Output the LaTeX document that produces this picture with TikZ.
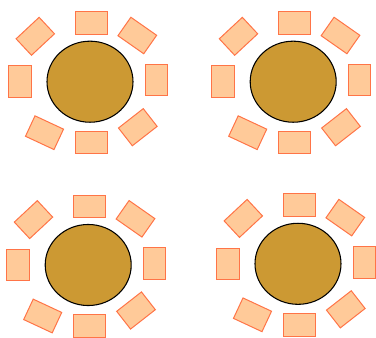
\documentclass[tikz,border=0pt]{standalone}
\usepackage{tikz}
\usetikzlibrary{shapes.geometric}
\definecolor{tableC}{HTML}{CC9933}
\definecolor{chairC}{HTML}{FFCA99}
\definecolor{chairE}{HTML}{FF7447}
\tikzset{
  tablebox/.style={ellipse, draw=black, line width=0.8pt, fill=tableC,
                   minimum width=64.5pt, minimum height=60.8pt, inner sep=0pt},
  chair/.style={rectangle, draw=chairE, line width=0.75pt, fill=chairC,
                minimum width=23.6pt, minimum height=16.9pt, inner sep=0pt},
}
% one table with its eight chairs: name, x, y
\newcommand{\roundtable}[3]{%
  \node[tablebox] (#1) at (#2,#3) {};
  \node[chair] (#1n) at (#2+1.5,#3-58.7) {};
  \node[chair] (#1s) at (#2+1.5,#3+61) {};
  \node[chair, rotate=90] (#1w) at (#2-70.2,#3) {};
  \node[chair, rotate=90] (#1e) at (#2+66.3,#3-1.5) {};
  \node[chair, rotate=43] (#1nw) at (#2-54.7,#3-45.4) {};
  \node[chair, rotate=-35] (#1ne) at (#2+47.3,#3-46.2) {};
  \node[chair, rotate=-25] (#1sw) at (#2-45.5,#3+51) {};
  \node[chair, rotate=38] (#1se) at (#2+47.8,#3+45.5) {};
}

\begin{document}
\begin{tikzpicture}[x=0.75pt, y=-0.75pt]
  \useasboundingbox (0,0) rectangle (376,337);
  \roundtable{ta}{90}{81.7}
  \roundtable{tb}{293.2}{81.7}
  \roundtable{tc}{88.2}{265}
  \roundtable{td}{298}{263.8}
\end{tikzpicture}
\end{document}
